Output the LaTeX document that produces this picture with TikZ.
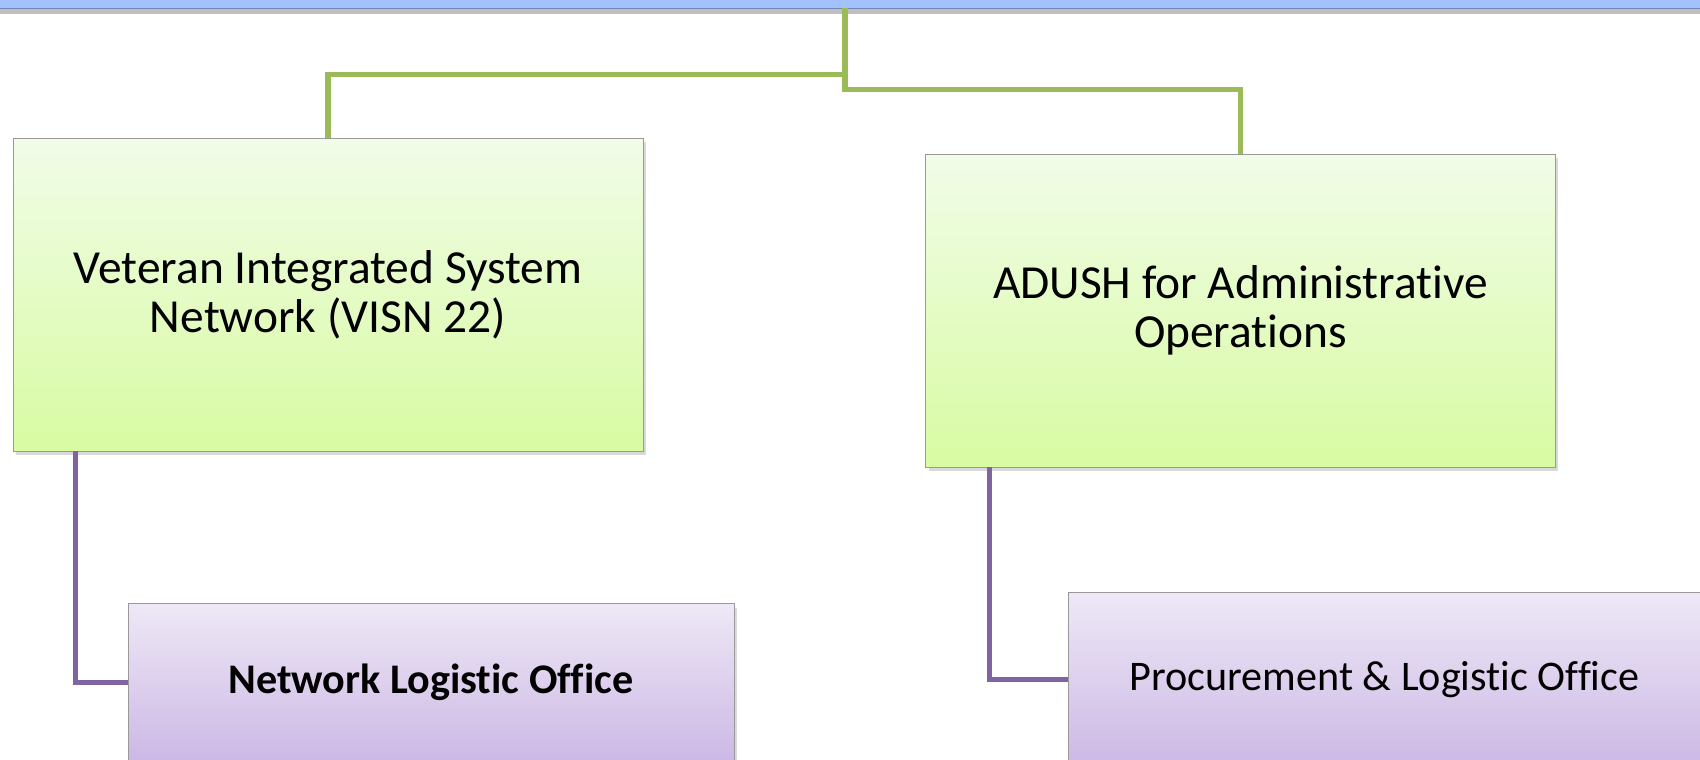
\documentclass[tikz,border=0pt]{standalone}
\usepackage{fontspec}
\setmainfont[Ligatures=NoCommon]{Carlito}
\usepackage{tikz}
\usetikzlibrary{positioning,shadows,calc}
\definecolor{barblue}{HTML}{A3C2FD}
\definecolor{baredge}{HTML}{7088B8}
\definecolor{unittop}{HTML}{F1FCE8}
\definecolor{unitbot}{HTML}{D8FBA2}
\definecolor{officetop}{HTML}{EEE8F6}
\definecolor{officebot}{HTML}{CCB8E5}
\definecolor{linkgreen}{HTML}{9BBB59}
\definecolor{linkpurple}{HTML}{8064A2}
\tikzset{
    node distance =1 cm and 1 cm,
    bar/.style ={rectangle, fill=barblue, draw=baredge, inner sep=0pt,
        minimum width=36cm, minimum height=0.8cm,
        drop shadow={shadow xshift=0cm, shadow yshift=-0.12cm, opacity=0.5}},
    unit/.style ={rectangle, draw=gray!80, thin, inner sep=0pt, align=center,
        top color=unittop, bottom color=unitbot,
        minimum width=12.6cm, minimum height=6.26cm,
        font=\fontsize{27}{28}\selectfont,
        drop shadow={shadow xshift=0.06cm, shadow yshift=-0.08cm, opacity=0.3}},
    office/.style ={rectangle, draw=gray!80, thin, inner sep=0pt, align=center,
        top color=officetop, bottom color=officebot,
        font=\fontsize{24}{28}\selectfont,
        drop shadow={shadow xshift=0.06cm, shadow yshift=-0.08cm, opacity=0.3}},
    link/.style ={draw=linkgreen, line width=3pt},
    sublink/.style ={draw=linkpurple, line width=3pt}
}
\begin{document}
\begin{tikzpicture}[x=0.02cm, y=-0.02cm]
    \useasboundingbox (0,0) rectangle (1700,760);
    \node[bar] (top) at (845, -12) {};

    \node[unit] (visn) at (328, 294.5) {Veteran Integrated System\\Network (VISN 22)};
    \node[unit] (adush) [below right =0.32cm and 5.64cm of visn.north east]
        {ADUSH for Administrative\\Operations};

    \node[office, minimum width=12.12cm, minimum height=3.16cm] (nlo)
        [below right =3.04cm and 2.3cm of visn.south west] {\textbf{Network Logistic Office}};
    \node[office, minimum width=12.64cm, minimum height=3.48cm] (plo)
        [below right =2.5cm and 2.86cm of adush.south west] {Procurement \& Logistic Office};

    \draw[link] (top.south) -- ++(0,66) -| (visn.north);
    \draw[link] (top.south) -- ++(0,81) -| (adush.north);

    \draw[sublink] ([xshift=1.26cm]visn.south west) |- (nlo.west);
    \draw[sublink] ([xshift=1.28cm]adush.south west) |- (plo.west);
\end{tikzpicture}
\end{document}
